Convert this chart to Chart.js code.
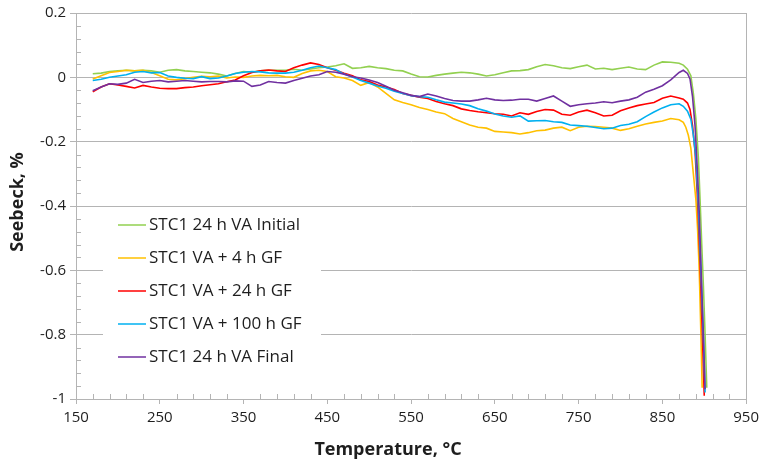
<!DOCTYPE html>
<html lang="en">
<head>
    <meta charset="UTF-8">
    <title>Seebeck vs Temperature</title>
    <script src="https://cdn.jsdelivr.net/npm/chart.js"></script>
    <style>
        body {
            margin: 0;
            background-color: #fff;
        }
        #seebeckChart {
            display: block;
        }
    </style>
</head>
<body>
    <canvas id="seebeckChart" width="764" height="462"></canvas>
    <script>
        // temperatures (°C) shared by the flat part of all curves
        const temps = [170, 180, 190, 200, 210, 220, 230, 240, 250, 260, 270, 280, 290, 300, 310, 320, 330, 340, 350, 360,
            370, 380, 390, 400, 410, 420, 430, 440, 450, 460, 470, 480, 490, 500, 510, 520, 530, 540, 550, 560,
            570, 580, 590, 600, 610, 620, 630, 640, 650, 660, 670, 680, 690, 700, 710, 720, 730, 740, 750, 760,
            770, 780, 790, 800, 810, 820, 830, 840, 850, 860, 870];

        const initialVals = [0.011, 0.013, 0.018, 0.02, 0.022, 0.02, 0.022, 0.02, 0.016, 0.022, 0.024, 0.02, 0.018, 0.016, 0.014, 0.01, 0.004, 0.012, 0.018, 0.016,
            0.02, 0.022, 0.022, 0.022, 0.025, 0.022, 0.026, 0.03, 0.032, 0.036, 0.042, 0.028, 0.03, 0.034, 0.03, 0.027, 0.022, 0.02, 0.01, 0.002,
            0.001, 0.006, 0.01, 0.013, 0.016, 0.014, 0.01, 0.004, 0.008, 0.014, 0.02, 0.021, 0.024, 0.033, 0.04, 0.036, 0.03, 0.027, 0.033, 0.038,
            0.026, 0.028, 0.024, 0.028, 0.032, 0.026, 0.024, 0.038, 0.048, 0.047, 0.044];
        const gf4Vals = [-0.005, 0.005, 0.015, 0.018, 0.022, 0.02, 0.022, 0.015, 0.005, -0.006, -0.008, -0.004, 0, 0.003, 0.002, 0.004, -0.002, 0.001, 0, 0.004,
            0.006, 0.005, 0.006, 0.002, 0, 0.012, 0.02, 0.022, 0.018, 0.002, -0.002, -0.01, -0.025, -0.016, -0.03, -0.05, -0.07, -0.078, -0.085, -0.094,
            -0.1, -0.108, -0.113, -0.128, -0.138, -0.148, -0.155, -0.158, -0.168, -0.17, -0.172, -0.176, -0.172, -0.166, -0.164, -0.158, -0.155, -0.166, -0.155, -0.152,
            -0.153, -0.155, -0.158, -0.165, -0.16, -0.152, -0.145, -0.14, -0.136, -0.128, -0.132];
        const gf24Vals = [-0.045, -0.03, -0.02, -0.024, -0.028, -0.033, -0.025, -0.03, -0.034, -0.035, -0.035, -0.032, -0.03, -0.026, -0.023, -0.02, -0.014, -0.008, 0.005, 0.015,
            0.02, 0.023, 0.02, 0.018, 0.03, 0.038, 0.045, 0.04, 0.03, 0.022, 0.013, 0.005, -0.008, -0.013, -0.024, -0.03, -0.038, -0.05, -0.056, -0.062,
            -0.066, -0.075, -0.082, -0.088, -0.098, -0.103, -0.107, -0.11, -0.113, -0.115, -0.12, -0.11, -0.115, -0.106, -0.1, -0.102, -0.115, -0.118, -0.108, -0.102,
            -0.11, -0.12, -0.118, -0.104, -0.095, -0.088, -0.083, -0.078, -0.065, -0.058, -0.064];
        const gf100Vals = [-0.01, -0.006, 0, 0.004, 0.008, 0.016, 0.018, 0.014, 0.015, 0.004, 0, -0.003, -0.004, 0.002, -0.004, -0.002, 0.004, 0.012, 0.016, 0.018,
            0.017, 0.014, 0.013, 0.013, 0.016, 0.022, 0.03, 0.035, 0.03, 0.024, 0.01, 0.001, -0.01, -0.018, -0.027, -0.034, -0.043, -0.05, -0.057, -0.06,
            -0.062, -0.07, -0.077, -0.08, -0.083, -0.088, -0.098, -0.105, -0.114, -0.12, -0.124, -0.12, -0.136, -0.135, -0.134, -0.138, -0.14, -0.148, -0.15, -0.152,
            -0.156, -0.16, -0.158, -0.15, -0.146, -0.138, -0.122, -0.108, -0.095, -0.085, -0.082];
        const finalVals = [-0.042, -0.03, -0.02, -0.022, -0.018, -0.006, -0.016, -0.012, -0.01, -0.014, -0.012, -0.01, -0.012, -0.014, -0.013, -0.013, -0.014, -0.011, -0.012, -0.028,
            -0.024, -0.013, -0.016, -0.018, -0.01, -0.003, 0.004, 0.008, 0.018, 0.016, 0.01, 0.002, -0.002, -0.008, -0.016, -0.028, -0.04, -0.048, -0.056, -0.06,
            -0.052, -0.058, -0.066, -0.072, -0.074, -0.074, -0.07, -0.065, -0.07, -0.072, -0.071, -0.068, -0.068, -0.074, -0.066, -0.058, -0.074, -0.09, -0.085, -0.082,
            -0.08, -0.076, -0.079, -0.074, -0.07, -0.062, -0.046, -0.037, -0.026, -0.008, 0.015];

        // the steep drop near 900 °C, each curve on its own temperatures
        const initialTailT = [875, 880, 884, 887, 890, 893, 895, 897, 899, 901, 903];
        const initialTailV = [0.038, 0.025, 0.005, -0.05, -0.13, -0.25, -0.38, -0.52, -0.65, -0.8, -0.965];
        const gf4TailT = [875, 878, 881, 884, 887, 890, 892, 894, 896, 897.5];
        const gf4TailV = [-0.14, -0.155, -0.18, -0.22, -0.3, -0.38, -0.47, -0.6, -0.8, -0.965];
        const gf24TailT = [875, 880, 883, 886, 889, 892, 895, 898, 900];
        const gf24TailV = [-0.068, -0.08, -0.1, -0.15, -0.23, -0.38, -0.58, -0.82, -0.99];
        const gf100TailT = [875, 880, 884, 887, 890, 893, 896, 899, 901];
        const gf100TailV = [-0.09, -0.105, -0.13, -0.18, -0.25, -0.4, -0.6, -0.81, -0.98];
        const finalTailT = [875, 880, 883, 886, 889, 892, 894, 896, 899, 901];
        const finalTailV = [0.022, 0.012, -0.005, -0.06, -0.15, -0.3, -0.42, -0.58, -0.8, -0.97];

        const seriesLabels = ['STC1 24 h VA Initial', 'STC1 VA + 4 h GF', 'STC1 VA + 24 h GF', 'STC1 VA + 100 h GF', 'STC1 24 h VA Final'];
        const seriesColors = ['#92d050', '#ffc000', '#ff0000', '#00b0f0', '#7030a0'];

        const xTicks = [150, 250, 350, 450, 550, 650, 750, 850, 950];
        const yTicks = [-1, -0.8, -0.6, -0.4, -0.2, 0, 0.2];
        const yTickLabels = ['-1', '-0.8', '-0.6', '-0.4', '-0.2', '0', '0.2'];

        const axisColor = '#b4b4b4';
        const textColor = '#1e1e1e';
        const fontFamily = '"Open Sans", sans-serif';

        function toPoints(vals, tailT, tailV) {
            const pts = temps.map((t, i) => ({ x: t, y: vals[i] }));
            return pts.concat(tailT.map((t, i) => ({ x: t, y: tailV[i] })));
        }

        const seriesData = [
            toPoints(initialVals, initialTailT, initialTailV),
            toPoints(gf4Vals, gf4TailT, gf4TailV),
            toPoints(gf24Vals, gf24TailT, gf24TailV),
            toPoints(gf100Vals, gf100TailT, gf100TailV),
            toPoints(finalVals, finalTailT, finalTailV)
        ];

        // minor ticks, right border, axis titles and the boxed legend
        const extras = {
            id: 'extras',
            afterDraw(chart) {
                const { ctx, chartArea: a, scales: { x, y } } = chart;
                ctx.save();
                ctx.strokeStyle = axisColor;
                ctx.lineWidth = 1;
                ctx.beginPath();
                ctx.moveTo(Math.round(a.right) + 0.5, a.top);
                ctx.lineTo(Math.round(a.right) + 0.5, a.bottom);
                for (let k = 1; k < 40; k++) {
                    if (k % 5 === 0) continue;
                    const px = Math.round(x.getPixelForValue(150 + k * 20)) + 0.5;
                    ctx.moveTo(px, a.bottom);
                    ctx.lineTo(px, a.bottom - 5);
                }
                for (let k = 1; k < 30; k++) {
                    if (k % 5 === 0) continue;
                    const py = Math.round(y.getPixelForValue(-1 + k * 0.04)) + 0.5;
                    ctx.moveTo(a.left, py);
                    ctx.lineTo(a.left + 5, py);
                }
                ctx.stroke();

                ctx.fillStyle = textColor;
                ctx.font = 'bold 18px ' + fontFamily;
                ctx.textAlign = 'center';
                ctx.textBaseline = 'middle';
                ctx.fillText('Temperature, °C', 388, 450);
                ctx.save();
                ctx.translate(18, 202);
                ctx.rotate(-Math.PI / 2);
                ctx.fillText('Seebeck, %', 0, 0);
                ctx.restore();

                ctx.fillStyle = '#fff';
                ctx.fillRect(103, 210, 218, 162);
                ctx.font = '17px ' + fontFamily;
                ctx.textAlign = 'left';
                seriesLabels.forEach((label, i) => {
                    const ly = 225 + i * 33;
                    ctx.strokeStyle = seriesColors[i];
                    ctx.lineWidth = 1.5;
                    ctx.beginPath();
                    ctx.moveTo(118, ly);
                    ctx.lineTo(146, ly);
                    ctx.stroke();
                    ctx.fillStyle = textColor;
                    ctx.fillText(label, 149, ly);
                });
                ctx.restore();
            }
        };

        const ctx = document.getElementById('seebeckChart').getContext('2d');
        new Chart(ctx, {
            type: 'line',
            data: {
                datasets: seriesData.map((pts, i) => ({
                    label: seriesLabels[i],
                    data: pts,
                    borderColor: seriesColors[i],
                    backgroundColor: seriesColors[i],
                    borderWidth: 1.6,
                    pointRadius: 0,
                    tension: 0,
                    order: i === 0 ? 5 : 5 - i
                }))
            },
            options: {
                responsive: false,
                animation: false,
                layout: { padding: { left: 0, top: 13, right: 13, bottom: 0 } },
                scales: {
                    x: {
                        type: 'linear',
                        min: 150,
                        max: 950,
                        afterBuildTicks: scale => { scale.ticks = xTicks.map(v => ({ value: v })); },
                        afterFit: scale => { scale.height = 63; },
                        ticks: {
                            color: textColor,
                            font: { family: fontFamily, size: 15 },
                            padding: 5,
                            maxRotation: 0
                        },
                        grid: {
                            drawOnChartArea: false,
                            drawTicks: true,
                            tickLength: 5,
                            color: axisColor
                        },
                        border: { color: axisColor }
                    },
                    y: {
                        min: -1,
                        max: 0.2,
                        afterBuildTicks: scale => { scale.ticks = yTicks.map(v => ({ value: v })); },
                        afterFit: scale => { scale.width = 76; },
                        ticks: {
                            color: textColor,
                            font: { family: fontFamily, size: 15 },
                            padding: 4,
                            callback: value => yTickLabels[yTicks.indexOf(value)]
                        },
                        grid: {
                            tickLength: 6,
                            color: axisColor
                        },
                        border: { color: axisColor }
                    }
                },
                plugins: {
                    legend: { display: false },
                    tooltip: { enabled: false }
                }
            },
            plugins: [extras]
        });
    </script>
</body>
</html>
